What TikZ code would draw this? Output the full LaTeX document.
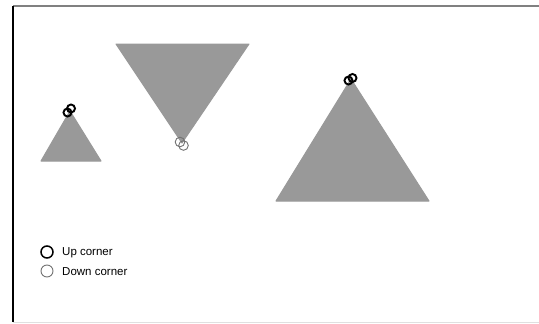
\documentclass[tikz,border=0pt]{standalone}
\usepackage{fontspec}
\setmainfont{Liberation Sans}
\begin{document}
\begin{tikzpicture}[x=1pt,y=-1pt,
  tri/.style={fill=black!40, draw=black!40, line width=1pt, line join=round},
  upc/.style={draw=black, line width=1.9pt},
  downc/.style={draw=black!55, line width=0.9pt},
  lbl/.style={anchor=west, font=\fontsize{11.5}{13}\selectfont, inner sep=0pt}]
\useasboundingbox (0,0) rectangle (539,324);
\fill[white] (0,0) rectangle (539,324);
% frame
\draw[black!50, line width=1.5pt] (13,6) -- (539,6);
\draw[black, line width=1.2pt] (13,6) -- (13,322);
\draw[black!12, line width=1pt] (13,322.5) -- (539,322.5);
% triangles
\path[tri] (70,111) -- (101,161) -- (41,161) -- cycle;
\path[tri] (116,44) -- (249,44) -- (182,143) -- cycle;
\path[tri] (351,79) -- (429,201) -- (276,201) -- cycle;
% corner markers
\draw[upc] (67.5,112.5) circle (4);
\draw[upc] (71,108.5) circle (4);
\draw[downc] (180,142) circle (4.8);
\draw[downc] (183.5,145.5) circle (4.8);
\draw[upc] (348.5,80.5) circle (4);
\draw[upc] (352.5,78) circle (4);
% legend
\draw[upc, line width=1.5pt] (47,252) circle (6) coordinate (u);
\draw[downc] (47,271) circle (6) coordinate (d);
\node[lbl] (ul) at (62,252.5) {Up corner};
\node[lbl] (dl) at (62,271.5) {Down corner};
\end{tikzpicture}
\end{document}
